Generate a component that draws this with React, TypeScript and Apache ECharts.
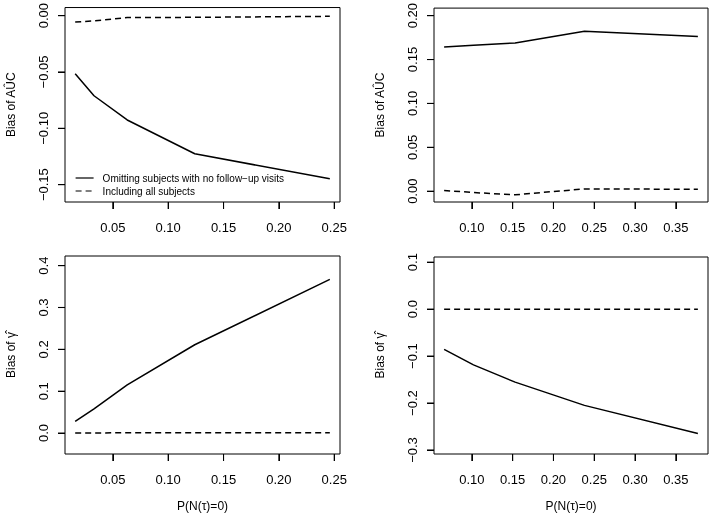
import React, { useEffect, useRef } from "react";
import * as echarts from "echarts";

// ---- data ----
const xLeft = [0.016, 0.033, 0.063, 0.124, 0.246];
const xRight = [0.066, 0.102, 0.153, 0.238, 0.377];

const aucOmitLeft = [-0.0515, -0.0711, -0.0926, -0.1226, -0.1448];
const aucAllLeft = [-0.0056, -0.0047, -0.0017, -0.0015, -0.0006];
const aucOmitRight = [0.1642, 0.1664, 0.1689, 0.1821, 0.1762];
const aucAllRight = [0.0008, -0.0015, -0.0041, 0.0026, 0.0022];

const gamOmitLeft = [0.028, 0.058, 0.115, 0.211, 0.367];
const gamAllLeft = [0.0, 0.0, 0.001, 0.001, 0.001];
const gamOmitRight = [-0.0857, -0.1187, -0.1555, -0.205, -0.265];
const gamAllRight = [0.0, 0.0, 0.0, 0.0, 0.0];

const xTicksLeft = [0.05, 0.1, 0.15, 0.2, 0.25];
const xTicksRight = [0.1, 0.15, 0.2, 0.25, 0.3, 0.35];
const yTicksAucLeft = [-0.15, -0.1, -0.05, 0];
const yTicksAucRight = [0, 0.05, 0.1, 0.15, 0.2];
const yTicksGamLeft = [0, 0.1, 0.2, 0.3, 0.4];
const yTicksGamRight = [-0.3, -0.2, -0.1, 0, 0.1];

const seriesNames = ["Omitting subjects with no follow\u2212up visits", "Including all subjects"];
const yNameAuc = "Bias of A\u00DBC";
const yNameGam = "Bias of \u03B3\u0302";
const xName = "P(N(\u03C4)=0)";

const FONT = "'Liberation Sans', Arial, Helvetica, sans-serif";
const INK = "#000000";
const TICK_LEN = 7;

const fmt = (d: number) => (v: number) => {
  const s = Math.abs(v).toFixed(d);
  return v < -1e-9 ? "\u2212" + s : s;
};

const zip = (xs: number[], ys: number[]) => xs.map((x, i) => [x, ys[i]]);

function xAxis(gridIndex: number, min: number, max: number, ticks: number[], withName: boolean) {
  return {
    gridIndex,
    type: "value",
    min,
    max,
    name: withName ? xName : undefined,
    nameLocation: "middle",
    nameGap: 46,
    nameTextStyle: { fontFamily: FONT, fontSize: 12, color: INK },
    splitLine: { show: false },
    axisLine: { onZero: false, show: false },
    axisTick: { show: true, length: TICK_LEN, lineStyle: { color: INK, width: 1 }, customValues: ticks.slice() },
    axisLabel: {
      show: true,
      customValues: ticks.slice(),
      formatter: fmt(2),
      margin: 19,
      fontFamily: FONT,
      fontSize: 13,
      color: INK,
    },
  };
}

function yAxis(gridIndex: number, min: number, max: number, ticks: number[], dec: number, name: string) {
  return {
    gridIndex,
    type: "value",
    min,
    max,
    name,
    nameLocation: "middle",
    nameRotate: 90,
    nameGap: 48,
    nameTextStyle: { fontFamily: FONT, fontSize: 12, color: INK },
    splitLine: { show: false },
    axisLine: { onZero: false, show: false },
    axisTick: { show: true, length: TICK_LEN, lineStyle: { color: INK, width: 1 }, customValues: ticks.slice() },
    axisLabel: {
      show: true,
      customValues: ticks.slice(),
      formatter: fmt(dec),
      rotate: 90,
      margin: 15,
      fontFamily: FONT,
      fontSize: 13,
      color: INK,
    },
  };
}

function lineSeries(idx: number, name: string, data: number[][], dashed: boolean) {
  return {
    type: "line",
    name,
    xAxisIndex: idx,
    yAxisIndex: idx,
    data,
    symbol: "none",
    showSymbol: false,
    itemStyle: { color: INK },
    lineStyle: { color: INK, width: 1.5, type: dashed ? [6, 4] : "solid" },
  };
}

export default function App() {
  const ref = useRef<HTMLDivElement>(null);
  useEffect(() => {
    if (!ref.current) return;
    const chart = echarts.init(ref.current, undefined, { renderer: "svg" });
    const xr = [
      [0.0068, 0.2552],
      [0.0536, 0.3894],
      [0.0068, 0.2552],
      [0.0536, 0.3894],
    ];
    const yr = [
      [-0.1654, 0.0072],
      [-0.0123, 0.2086],
      [-0.05, 0.423],
      [-0.3085, 0.111],
    ];
    const xt = [xTicksLeft, xTicksRight, xTicksLeft, xTicksRight];
    const yt = [yTicksAucLeft, yTicksAucRight, yTicksGamLeft, yTicksGamRight];
    chart.setOption({
      animation: false,
      grid: [
        { left: 65, top: 4, width: 275, height: 198, show: true, borderColor: INK },
        { left: 434, top: 4, width: 274, height: 198, show: true, borderColor: INK },
        { left: 65, top: 256, width: 275, height: 198, show: true, borderColor: INK },
        { left: 434, top: 257, width: 274, height: 198, show: true, borderColor: INK },
      ],
      xAxis: [
        xAxis(0, xr[0][0], xr[0][1], xTicksLeft, false),
        xAxis(1, xr[1][0], xr[1][1], xTicksRight, false),
        xAxis(2, xr[2][0], xr[2][1], xTicksLeft, true),
        xAxis(3, xr[3][0], xr[3][1], xTicksRight, true),
      ],
      yAxis: [
        yAxis(0, yr[0][0], yr[0][1], yTicksAucLeft, 2, yNameAuc),
        yAxis(1, yr[1][0], yr[1][1], yTicksAucRight, 2, yNameAuc),
        yAxis(2, yr[2][0], yr[2][1], yTicksGamLeft, 1, yNameGam),
        yAxis(3, yr[3][0], yr[3][1], yTicksGamRight, 1, yNameGam),
      ],
      legend: {
        data: seriesNames,
        orient: "vertical",
        left: 75,
        top: 172,
        padding: 0,
        itemGap: 1,
        itemWidth: 18,
        itemHeight: 8,
        selectedMode: false,
        itemStyle: { color: "transparent", borderWidth: 0, opacity: 0 },
        lineStyle: { color: INK, width: 1.2 },
        textStyle: { fontFamily: FONT, fontSize: 10, color: INK, lineHeight: 12, padding: [0, 0, 0, 4] },
      },
      series: [
        lineSeries(0, seriesNames[0], zip(xLeft, aucOmitLeft), false),
        lineSeries(0, seriesNames[1], zip(xLeft, aucAllLeft), true),
        lineSeries(1, seriesNames[0], zip(xRight, aucOmitRight), false),
        lineSeries(1, seriesNames[1], zip(xRight, aucAllRight), true),
        lineSeries(2, seriesNames[0], zip(xLeft, gamOmitLeft), false),
        lineSeries(2, seriesNames[1], zip(xLeft, gamAllLeft), true),
        lineSeries(3, seriesNames[0], zip(xRight, gamOmitRight), false),
        lineSeries(3, seriesNames[1], zip(xRight, gamAllRight), true),
      ],
    });

    // tick marks positioned through the axes' own scales
    const els: any[] = [];
    for (let i = 0; i < 4; i++) {
      xt[i].forEach((v) => {
        const p = chart.convertToPixel({ gridIndex: i } as any, [v, yr[i][0]]) as number[];
        if (!p) return;
        els.push({
          type: "line",
          silent: true,
          z: 100,
          shape: { x1: p[0], y1: p[1], x2: p[0], y2: p[1] + TICK_LEN },
          style: { stroke: INK, lineWidth: 1.1 },
        });
      });
      yt[i].forEach((v) => {
        const p = chart.convertToPixel({ gridIndex: i } as any, [xr[i][0], v]) as number[];
        if (!p) return;
        els.push({
          type: "line",
          silent: true,
          z: 100,
          shape: { x1: p[0], y1: p[1], x2: p[0] - TICK_LEN, y2: p[1] },
          style: { stroke: INK, lineWidth: 1.1 },
        });
      });
    }
    chart.setOption({ graphic: { elements: els } });
    return () => chart.dispose();
  }, []);
  return <div ref={ref} style={{ position: "fixed", left: 0, top: 0, width: 709, height: 513 }} />;
}
